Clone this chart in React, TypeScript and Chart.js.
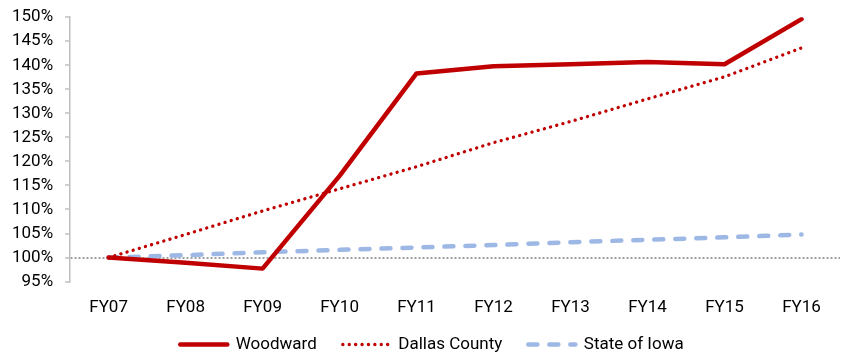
import React, { useEffect, useRef } from "react";
import { Chart, registerables } from "chart.js";

Chart.register(...registerables);

const categories = ["FY07", "FY08", "FY09", "FY10", "FY11", "FY12", "FY13", "FY14", "FY15", "FY16"];
const woodward = [100, 98.9, 97.7, 117, 138.3, 139.8, 140.2, 140.7, 140.2, 149.6];
const dallasCounty = [100, 104.8, 109.7, 114.3, 118.9, 123.9, 128.3, 133, 137.6, 143.6];
const stateOfIowa = [100, 100.5, 101.1, 101.6, 102.1, 102.6, 103.2, 103.7, 104.2, 104.8];
const yMin = 95;
const yMax = 150;
const yStep = 5;

const FONT = "Roboto, 'Liberation Sans', Arial, sans-serif";
const LEGEND_SHRINK = 31;
const LEGEND_LIFT = 24;
const LEGEND_SHIFT_X = 12;

const legendTweak = {
  id: "legendTweak",
  beforeLayout(chart: any) {
    const lg = chart.legend;
    if (lg && !lg._tweaked) {
      const orig = lg.fit.bind(lg);
      lg.fit = function () {
        orig();
        this.height -= LEGEND_SHRINK;
      };
      lg._tweaked = true;
    }
  },
  afterLayout(chart: any) {
    const lg = chart.legend;
    if (lg) {
      lg.top -= LEGEND_LIFT;
      lg.left += LEGEND_SHIFT_X;
      lg.right += LEGEND_SHIFT_X;
    }
  },
};

export default function App() {
  const ref = useRef<HTMLCanvasElement | null>(null);

  useEffect(() => {
    if (!ref.current) return;
    const chart = new Chart(ref.current, {
      type: "line",
      data: {
        labels: categories,
        datasets: [
          {
            label: "Woodward",
            data: woodward,
            borderColor: "#c00000",
            backgroundColor: "#c00000",
            borderWidth: 4.5,
            pointRadius: 0,
            tension: 0,
            borderCapStyle: "round",
            borderJoinStyle: "round",
            order: 1,
          },
          {
            label: "Dallas County",
            data: dallasCounty,
            borderColor: "#c00000",
            backgroundColor: "#c00000",
            borderWidth: 3.3,
            borderDash: [0.1, 6.3],
            borderCapStyle: "round",
            pointRadius: 0,
            tension: 0,
            order: 2,
          },
          {
            label: "State of Iowa",
            data: stateOfIowa,
            borderColor: "#9db8e5",
            backgroundColor: "#9db8e5",
            borderWidth: 4.5,
            borderDash: [9, 12],
            borderCapStyle: "round",
            pointRadius: 0,
            tension: 0,
            order: 3,
          },
        ],
      },
      options: {
        animation: false,
        responsive: false,
        maintainAspectRatio: false,
        layout: { padding: { top: 0, right: 5, left: 0, bottom: 0 } },
        plugins: {
          tooltip: { enabled: false },
          legend: {
            position: "bottom",
            labels: {
              usePointStyle: true,
              pointStyle: "line",
              pointStyleWidth: 47,
              boxWidth: 47,
              padding: 26,
              color: "#000000",
              font: { family: FONT, size: 17 },
              generateLabels: (c: any) => {
                const items = Chart.defaults.plugins.legend.labels.generateLabels(c);
                return items.map((it: any) => {
                  const ds: any = c.data.datasets[it.datasetIndex];
                  return {
                    ...it,
                    pointStyle: "line",
                    lineDash: ds.borderDash || [],
                    lineCap: "round",
                    lineWidth: ds.borderWidth,
                    strokeStyle: ds.borderColor,
                  };
                });
              },
            },
          },
        },
        scales: {
          x: {
            offset: true,
            grid: { display: false, drawTicks: false },
            border: { display: false },
            ticks: {
              color: "#000000",
              font: { family: FONT, size: 17 },
              padding: 16,
              maxRotation: 0,
              autoSkip: false,
            },
          },
          y: {
            min: yMin,
            max: yMax,
            grid: {
              drawOnChartArea: true,
              color: (ctx: any) => (ctx.tick && ctx.tick.value === 100 ? "#a0a0a0" : "rgba(0,0,0,0)"),
              lineWidth: 2,
              tickColor: "#bfbfbf",
              tickLength: 5,
              tickWidth: 1.5,
            },
            border: { display: true, color: "#bfbfbf", width: 1.5, dash: [2, 2] },
            ticks: {
              stepSize: yStep,
              autoSkip: false,
              color: "#000000",
              padding: 12,
              font: { family: FONT, size: 17 },
              callback: (v: any) => v + "%",
            },
            afterFit: (scale: any) => {
              scale.paddingTop -= 5;
            },
          },
        },
      },
      plugins: [legendTweak],
    } as any);
    return () => chart.destroy();
  }, []);

  return (
    <div style={{ position: "fixed", left: 0, top: 0, width: 845, height: 356 }}>
      <canvas ref={ref} width={845} height={356} />
    </div>
  );
}
